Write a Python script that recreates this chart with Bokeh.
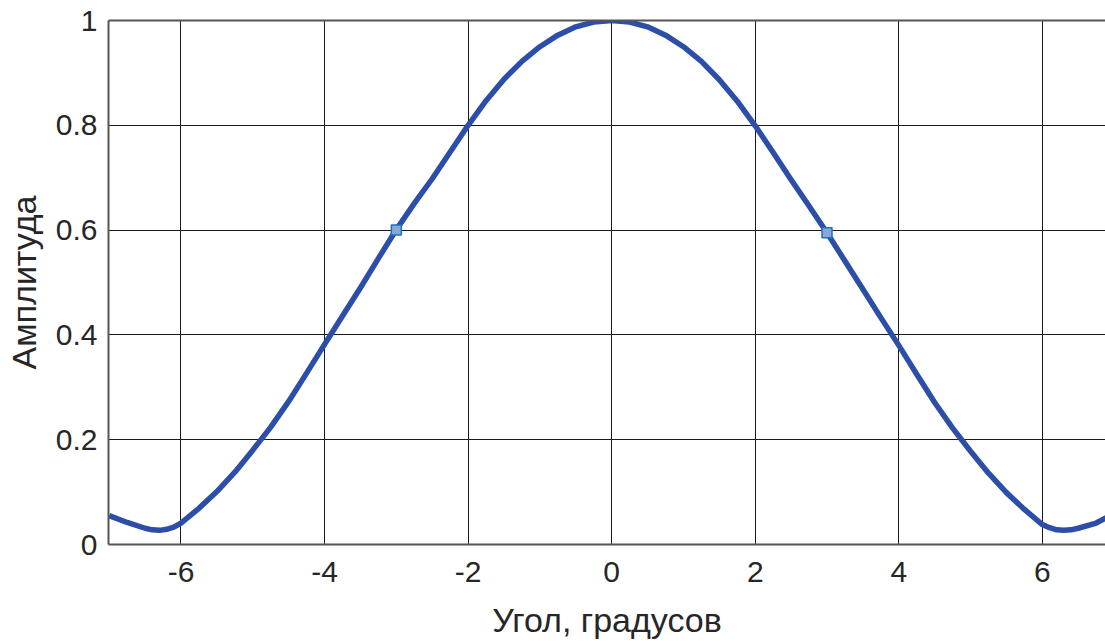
from bokeh.plotting import figure
from bokeh.models import FixedTicker, LinearAxis, Range1d
from bokeh.embed import file_html
from bokeh.resources import INLINE

# Data
angle = [-7.0, -6.75, -6.5, -6.4, -6.3, -6.2, -6.1, -6.0, -5.75, -5.5, -5.25, -5.0,
         -4.75, -4.5, -4.25, -4.0, -3.75, -3.5, -3.25, -3.0, -2.75, -2.5, -2.25, -2.0,
         -1.75, -1.5, -1.25, -1.0, -0.75, -0.5, -0.25, 0.0, 0.25, 0.5, 0.75, 1.0, 1.25,
         1.5, 1.75, 2.0, 2.25, 2.5, 2.75, 3.0, 3.25, 3.5, 3.75, 4.0, 4.25, 4.5, 4.75,
         5.0, 5.25, 5.5, 5.75, 6.0, 6.1, 6.2, 6.3, 6.4, 6.5, 6.75, 6.9]
amplitude = [0.055, 0.042, 0.031, 0.028, 0.027, 0.029, 0.033, 0.041, 0.069, 0.101,
             0.138, 0.180, 0.224, 0.273, 0.327, 0.382, 0.436, 0.490, 0.546, 0.601,
             0.651, 0.698, 0.749, 0.800, 0.847, 0.888, 0.922, 0.950, 0.972, 0.988,
             0.997, 1.000, 0.997, 0.988, 0.972, 0.950, 0.922, 0.887, 0.846, 0.799,
             0.748, 0.696, 0.646, 0.595, 0.541, 0.487, 0.433, 0.380, 0.325, 0.271,
             0.222, 0.178, 0.136, 0.099, 0.067, 0.038, 0.032, 0.028, 0.027, 0.028,
             0.031, 0.041, 0.052]
marker_angle = [-3.0, 3.0]
marker_amp = [0.600, 0.595]

x_ticks = [-6, -4, -2, 0, 2, 4, 6]
x_tick_labels = ["-6", "-4", "-2", "0", "2", "4", "6"]
y_ticks = [0, 0.2, 0.4, 0.6, 0.8, 1]
y_tick_labels = ["0", "0.2", "0.4", "0.6", "0.8", "1"]
x_label = "Угол, градусов"
y_label = "Амплитуда"

FONT = "Liberation Sans"
TICK_FS = "30px"
LABEL_FS = "34px"

p = figure(width=1105, height=641, output_backend="svg", toolbar_location=None,
           x_range=Range1d(-7.01, 6.88), y_range=Range1d(0, 1),
           min_border_left=108, min_border_right=0, min_border_top=20,
           min_border_bottom=96)
p.background_fill_color = "white"
p.border_fill_color = "white"
p.outline_line_color = None

for ax in (p.xaxis[0], p.yaxis[0]):
    ax.major_tick_in = 0
    ax.major_tick_out = 0
    ax.minor_tick_line_color = None
    ax.axis_line_color = "#555555"
    ax.axis_line_width = 2
    ax.major_label_text_font = FONT
    ax.major_label_text_font_size = TICK_FS
    ax.major_label_text_color = "#262626"
    ax.axis_label_text_font = FONT
    ax.axis_label_text_font_size = LABEL_FS
    ax.axis_label_text_font_style = "normal"
    ax.axis_label_text_color = "#262626"

p.xaxis[0].ticker = FixedTicker(ticks=x_ticks)
p.xaxis[0].major_label_overrides = dict(zip(x_ticks, x_tick_labels))
p.xaxis[0].major_label_standoff = 17
p.xaxis[0].axis_label = x_label
p.xaxis[0].axis_label_standoff = 16

p.yaxis[0].ticker = FixedTicker(ticks=y_ticks)
p.yaxis[0].major_label_overrides = dict(zip(y_ticks, y_tick_labels))
p.yaxis[0].major_label_standoff = 11
p.yaxis[0].axis_label = y_label
p.yaxis[0].axis_label_standoff = 10

top = LinearAxis(ticker=FixedTicker(ticks=[]), axis_line_color="#555555",
                 axis_line_width=2, major_tick_in=0, major_tick_out=0,
                 minor_tick_line_color=None, major_label_text_font_size="0px")
p.add_layout(top, "above")

p.xgrid.ticker = FixedTicker(ticks=x_ticks)
p.ygrid.ticker = FixedTicker(ticks=y_ticks)
for g in (p.xgrid[0], p.ygrid[0]):
    g.grid_line_color = "#1a1a1a"
    g.grid_line_width = 1
    g.grid_line_alpha = 1.0

p.line(angle, amplitude, line_color="#2d4ea8", line_width=5.5, line_join="round")
p.scatter(marker_angle, marker_amp, marker="square", size=10,
          fill_color="#86a9dc", line_color="#1f72b8", line_width=1.5)

open("out.html", "w").write(file_html(p, INLINE))
